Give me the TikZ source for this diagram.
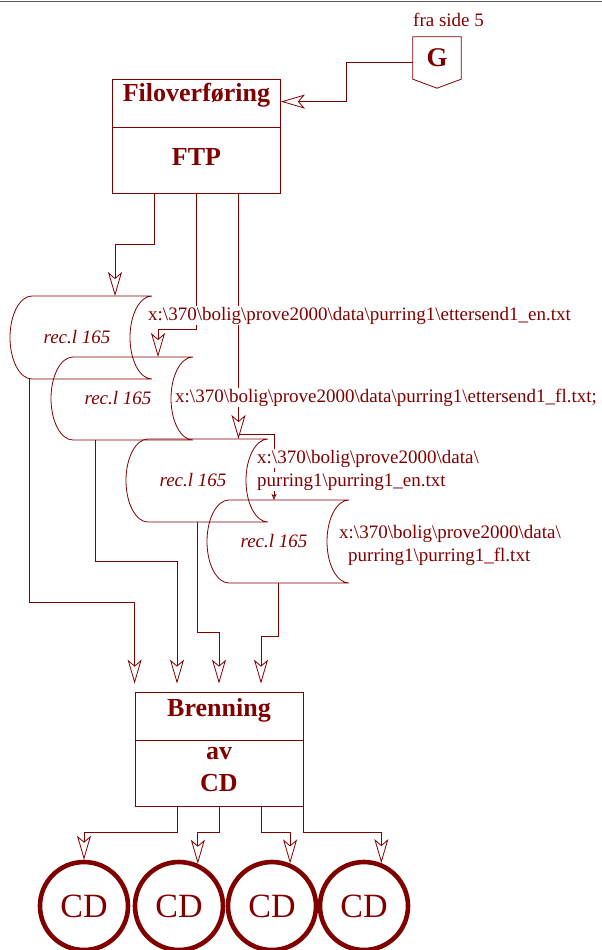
\documentclass[tikz,border=0pt]{standalone}
\usepackage{fontspec}
\setmainfont{Liberation Serif}
\usetikzlibrary{arrows.meta}
\definecolor{flowred}{RGB}{128,0,0}
\newcommand\bsl{\textbackslash}

\begin{document}
\begin{tikzpicture}[x=1pt, y=-1pt, color=flowred,
    flow/.style={line width=0.8pt, -{Stealth[open, length=24pt, width=14pt, inset=6pt]}},
    tinyflow/.style={line width=0.8pt, -{Stealth[open, length=6pt, width=5pt, inset=1.5pt]}},
    procbox/.style={draw, line width=0.8pt, minimum width=168pt, minimum height=114pt, inner sep=0pt},
    boxtitle/.style={font=\fontsize{26}{30}\selectfont\bfseries, anchor=base, inner sep=0pt},
    fname/.style={font=\fontsize{19}{22}\selectfont, fill=white, anchor=base west, inner sep=1pt},
    cyl/.style={minimum width=120pt, minimum height=83pt, inner sep=0pt, outer sep=0pt},
    rec/.style={font=\fontsize{19}{22}\selectfont\itshape},
    cd/.style={circle, draw, line width=4.6pt, minimum size=88pt, inner sep=0pt, font=\fontsize{34}{40}\selectfont}]

  \useasboundingbox (0,0) rectangle (602,950);
  \draw[black!65, line width=1.5pt] (0,1.5) -- (602,1.5);

  % off-page connector
  \node[minimum width=48pt, minimum height=42pt, inner sep=0pt, font=\fontsize{27}{30}\selectfont\bfseries] (g) at (437,58) {G};
  \draw[line width=0.8pt] (g.north west) -- (g.north east) -- (g.south east) -- ([yshift=-9pt]g.south) -- (g.south west) -- cycle;
  \node[anchor=base west, inner sep=0pt, font=\fontsize{19}{22}\selectfont] (fra) at (413,27) {fra side 5};

  % file transfer
  \node[procbox] (fil) at (196.5,136) {};
  \draw[line width=0.8pt] ([yshift=-49pt]fil.north west) -- ([yshift=-49pt]fil.north east);
  \node[boxtitle] (filt) at ([yshift=-23pt]fil.north) {Filoverføring};
  \node[boxtitle] (ftp) at ([yshift=-87pt]fil.north) {FTP};
  \draw[flow] ([yshift=-4pt]g.west) -- ++(-66,0) |- ([yshift=-23pt]fil.north east);

  % files
  \foreach \i/\x/\y in {1/92/337.5, 2/133/398.5, 3/208/480.5, 4/289/541.5} {
    \node[cyl] (c\i) at (\x,\y) {};
    \node[rec] (r\i) at ([xshift=-15pt]c\i.center) {rec.l 165};
    \draw[line width=0.8pt] (c\i.north west) -- (c\i.north east)
      arc[start angle=90, end angle=270, x radius=22pt, y radius=41.5pt]
      -- (c\i.south west)
      arc[start angle=270, end angle=90, x radius=22pt, y radius=41.5pt] -- cycle;
  }

  \draw[flow] ([xshift=-42pt]fil.south) -- ++(0,51) -| ([xshift=23pt]c1.north);
  \draw[flow] (fil.south) -- ++(0,136) -| ([xshift=25pt]c2.north);
  \draw[flow] ([xshift=42pt]fil.south) -- ([xshift=42pt]fil.south |- c3.north);
  \path ([xshift=42pt]fil.south |- c3.north) ++(0,-5) coordinate (br);
  \draw[tinyflow] (br) -| ([xshift=-15pt]c4.north);

  \node[fname] (p1) at (147,320) {x:\bsl 370\bsl bolig\bsl prove2000\bsl data\bsl purring1\bsl ettersend1\_en.txt};
  \node[fname] (p2) at (174,402) {x:\bsl 370\bsl bolig\bsl prove2000\bsl data\bsl purring1\bsl ettersend1\_fl.txt;};
  \node[fname] (p3a) at (256,463) {x:\bsl 370\bsl bolig\bsl prove2000\bsl data\bsl};
  \node[fname] (p3b) at (256,486) {purring1\bsl purring1\_en.txt};
  \node[fname] (p4a) at (338,538) {x:\bsl 370\bsl bolig\bsl prove2000\bsl data\bsl};
  \node[fname] (p4b) at (347,561) {purring1\bsl purring1\_fl.txt};

  % burning
  \node[procbox] (brn) at (219,749) {};
  \draw[line width=0.8pt] ([yshift=-49pt]brn.north west) -- ([yshift=-49pt]brn.north east);
  \node[boxtitle] (brnt) at ([yshift=-25pt]brn.north) {Brenning};
  \node[boxtitle] (av) at ([yshift=-68pt]brn.north) {av};
  \node[boxtitle] (cdt) at ([yshift=-100pt]brn.north) {CD};

  \draw[flow] ([xshift=-63pt]c1.south) -- ++(0,223) -| ([yshift=8pt]brn.north west);
  \draw[flow] ([xshift=-38pt]c2.south) -- ++(0,121) -| ([xshift=-42pt,yshift=8pt]brn.north);
  \draw[flow] ([xshift=-11pt]c3.south) -- ++(0,110) -| ([yshift=8pt]brn.north);
  \draw[flow] ([xshift=-11pt]c4.south) -- ++(0,53) -| ([xshift=42pt,yshift=8pt]brn.north);

  % discs
  \foreach \i/\x in {1/84, 2/179, 3/272, 4/364}
    \node[cd] (cd\i) at (\x,906) {CD};

  \draw[flow] ([xshift=-42pt]brn.south) -- ++(0,26) -| (cd1.north);
  \draw[flow] (brn.south) -- ++(0,26) -| (cd2.66);
  \draw[flow] ([xshift=42pt]brn.south) -- ++(0,26) -| (cd3.67);
  \draw[flow] (brn.south east) -- ++(0,26) -| (cd4.68);
\end{tikzpicture}
\end{document}
